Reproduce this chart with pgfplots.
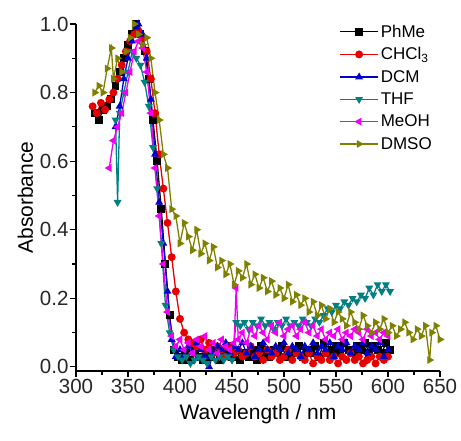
\documentclass[border=0pt]{standalone}
\usepackage{pgfplots}
\pgfplotsset{compat=1.18}
\usepackage{fontspec}
\setmainfont{Liberation Sans}
\definecolor{cPhMe}{RGB}{0,0,0}
\definecolor{cCHCl}{RGB}{230,0,0}
\definecolor{cDCM}{RGB}{0,0,205}
\definecolor{cTHF}{RGB}{0,128,128}
\definecolor{cMeOH}{RGB}{240,0,240}
\definecolor{cDMSO}{RGB}{128,128,0}
\begin{document}
\begin{tikzpicture}
\begin{axis}[
    name=ax, at={(0pt,0pt)}, anchor=south west,
    scale only axis, width=364pt, height=347pt,
    xmin=300, xmax=650, ymin=-0.012, ymax=1.0,
    axis x line*=bottom, axis y line*=left,
    axis line style={line width=1.4pt},
    tick align=outside, tick style={line width=1.2pt, black},
    major tick length=6pt, minor tick length=4pt,
    xtick={300,350,...,650}, ytick={0,0.2,...,1.0},
    minor x tick num=1, minor y tick num=1,
    yticklabel style={xshift=2pt, /pgf/number format/.cd, fixed, fixed zerofill, precision=1},
    /pgf/number format/assume math mode=true,
    tick label style={font=\fontsize{20.5}{22}\selectfont, text=black!85},
    xticklabel style={yshift=1pt},
    label style={font=\fontsize{21}{23}\selectfont},
    xlabel={Wavelength / nm}, ylabel={Absorbance},
    xlabel style={yshift=-3pt}, ylabel style={yshift=0pt},
    clip=false,
    every axis plot/.append style={line width=1.3pt, mark size=3.3pt},
    legend style={draw=none, fill=none, at={(0.715,1.01)}, anchor=north west,
        font=\fontsize{17}{17}\selectfont, row sep=5pt},
    legend cell align=left,
    legend image code/.code={\draw[mark repeat=2,mark phase=2,#1] plot coordinates {(0pt,0pt) (19pt,0pt) (38pt,0pt)};},
]
\addplot[cPhMe, mark=square*] coordinates {
(318,0.74)(322,0.72)(326,0.75)(330,0.76)(334,0.78)(338,0.82)(342,0.86)(346,0.90)(350,0.94)(354,0.97)(358,1.00)(362,0.97)(366,0.92)(370,0.84)(374,0.72)(378,0.60)(382,0.46)(386,0.30)(390,0.15)(394,0.05)(398,0.03)(402,0.02)(406,0.04)(410,0.02)(414,0.05)(418,0.03)(422,0.02)(426,0.04)(430,0.03)(434,0.05)(438,0.02)(442,0.04)(446,0.06)(450,0.03)(454,0.05)(458,0.02)(462,0.04)(466,0.03)(470,0.05)(474,0.02)(478,0.06)(482,0.04)(486,0.03)(490,0.05)(494,0.04)(498,0.06)(502,0.03)(506,0.05)(510,0.04)(514,0.06)(518,0.03)(522,0.05)(526,0.04)(530,0.06)(534,0.03)(538,0.07)(542,0.04)(546,0.05)(550,0.06)(554,0.04)(558,0.07)(562,0.05)(566,0.04)(570,0.06)(574,0.05)(578,0.07)(582,0.04)(586,0.06)(590,0.05)(594,0.04)(598,0.07)(602,0.05)
};
\addlegendentry{PhMe}
\addplot[cCHCl, mark=*] coordinates {
(316,0.76)(320,0.74)(324,0.77)(328,0.75)(332,0.78)(336,0.80)(340,0.84)(344,0.88)(348,0.92)(352,0.95)(356,0.97)(360,0.98)(364,0.96)(368,0.92)(372,0.84)(376,0.74)(380,0.62)(384,0.52)(388,0.42)(392,0.32)(396,0.22)(400,0.14)(404,0.10)(408,0.08)(412,0.07)(416,0.06)(420,0.08)(424,0.05)(428,0.07)(432,0.04)(436,0.06)(440,0.05)(444,0.03)(448,0.06)(452,0.04)(456,0.05)(460,0.03)(464,0.04)(468,0.06)(472,0.03)(476,0.04)(480,0.02)(484,0.05)(488,0.03)(492,0.04)(496,0.02)(500,0.03)(504,0.05)(508,0.02)(512,0.04)(516,0.03)(520,0.02)(524,0.04)(528,0.01)(532,0.03)(536,0.02)(540,0.04)(544,0.02)(548,0.03)(552,0.01)(556,0.03)(560,0.02)(564,0.04)(568,0.02)(572,0.03)(576,0.01)(580,0.02)(584,0.03)(588,0.01)(592,0.03)(596,0.02)(600,0.03)
};
\addlegendentry{CHCl\textsubscript{3}}
\addplot[cDCM, mark=triangle*] coordinates {
(338,0.70)(342,0.76)(346,0.84)(350,0.90)(354,0.95)(358,0.99)(360,1.00)(364,0.97)(368,0.90)(372,0.78)(376,0.62)(380,0.48)(384,0.36)(388,0.22)(392,0.08)(396,0.03)(400,0.05)(404,0.03)(408,0.06)(412,0.04)(416,0.07)(420,0.05)(424,0.03)(428,0.00)(432,0.04)(436,0.06)(440,0.05)(444,0.07)(448,0.04)(452,0.06)(456,0.05)(460,0.07)(464,0.04)(468,0.06)(472,0.03)(476,0.05)(480,0.07)(484,0.05)(488,0.04)(492,0.06)(496,0.05)(500,0.07)(504,0.04)(508,0.06)(512,0.05)(516,0.03)(520,0.06)(524,0.05)(528,0.07)(532,0.04)(536,0.06)(540,0.05)(544,0.07)(548,0.03)(552,0.06)(556,0.05)(560,0.07)(564,0.04)(568,0.06)(572,0.05)(576,0.07)(580,0.04)(584,0.06)(588,0.05)(592,0.07)(596,0.03)(600,0.05)
};
\addlegendentry{DCM}
\addplot[cTHF, mark=triangle*, mark options={rotate=180}] coordinates {
(338,0.72)(340,0.48)(342,0.74)(346,0.80)(350,0.86)(354,0.92)(358,0.90)(362,0.88)(366,0.83)(370,0.76)(374,0.64)(378,0.52)(382,0.36)(386,0.18)(390,0.10)(394,0.05)(398,0.03)(402,0.02)(406,0.03)(410,0.01)(414,0.02)(418,0.03)(422,0.02)(426,0.01)(430,0.03)(434,0.02)(438,0.03)(442,0.02)(446,0.03)(450,0.02)(454,0.13)(458,0.12)(462,0.13)(466,0.11)(470,0.13)(474,0.12)(478,0.14)(482,0.12)(486,0.13)(490,0.11)(494,0.13)(498,0.12)(502,0.14)(506,0.12)(510,0.13)(514,0.12)(518,0.14)(522,0.13)(526,0.12)(530,0.14)(534,0.13)(538,0.15)(542,0.17)(546,0.16)(550,0.18)(554,0.17)(558,0.19)(562,0.18)(566,0.20)(570,0.19)(574,0.21)(578,0.20)(582,0.23)(586,0.21)(590,0.24)(594,0.22)(598,0.24)(602,0.22)
};
\addlegendentry{THF}
\addplot[cMeOH, mark=triangle*, mark options={rotate=90}] coordinates {
(332,0.58)(336,0.66)(340,0.70)(344,0.74)(348,0.80)(352,0.86)(356,0.92)(360,0.95)(364,0.93)(368,0.86)(372,0.74)(376,0.58)(380,0.44)(384,0.30)(388,0.16)(392,0.09)(396,0.06)(400,0.08)(404,0.05)(408,0.07)(412,0.04)(416,0.08)(420,0.06)(424,0.09)(428,0.05)(432,0.07)(436,0.04)(440,0.08)(444,0.06)(448,0.05)(452,0.07)(454,0.23)(456,0.08)(460,0.10)(464,0.07)(468,0.11)(472,0.09)(476,0.12)(480,0.10)(484,0.08)(488,0.12)(492,0.10)(496,0.13)(500,0.09)(504,0.11)(508,0.12)(512,0.09)(516,0.11)(520,0.13)(524,0.10)(528,0.12)(532,0.09)(536,0.11)(540,0.08)(544,0.10)(548,0.09)(552,0.11)(556,0.08)(560,0.10)(564,0.09)(568,0.11)(572,0.10)(576,0.08)(580,0.11)(584,0.09)(588,0.10)(592,0.08)(596,0.10)(600,0.09)
};
\addlegendentry{MeOH}
\addplot[cDMSO, mark=triangle*, mark options={rotate=-90}] coordinates {
(318,0.80)(322,0.82)(326,0.80)(330,0.87)(334,0.93)(336,0.84)(340,0.90)(344,0.86)(348,0.92)(352,0.96)(356,1.00)(360,0.97)(364,0.94)(368,0.96)(372,0.90)(376,0.80)(380,0.72)(384,0.62)(388,0.58)(392,0.46)(396,0.44)(400,0.36)(404,0.42)(408,0.38)(412,0.34)(416,0.40)(420,0.33)(424,0.36)(428,0.31)(432,0.35)(436,0.29)(440,0.31)(444,0.27)(448,0.30)(452,0.24)(456,0.28)(460,0.26)(464,0.30)(468,0.24)(472,0.27)(476,0.23)(480,0.26)(484,0.22)(488,0.25)(492,0.21)(496,0.23)(500,0.20)(504,0.24)(508,0.19)(512,0.21)(516,0.18)(520,0.20)(524,0.16)(528,0.19)(532,0.15)(536,0.18)(540,0.14)(544,0.17)(548,0.13)(552,0.16)(556,0.14)(560,0.12)(564,0.16)(568,0.13)(572,0.11)(576,0.15)(580,0.12)(584,0.10)(588,0.13)(592,0.11)(596,0.14)(600,0.10)(604,0.12)(608,0.09)(612,0.11)(616,0.13)(620,0.10)(624,0.08)(628,0.11)(632,0.09)(636,0.12)(640,0.02)(642,0.10)(646,0.12)(650,0.08)
};
\addlegendentry{DMSO}
\end{axis}
\path (-76pt,-70pt) rectangle (385pt,371pt);
\end{tikzpicture}
\end{document}
